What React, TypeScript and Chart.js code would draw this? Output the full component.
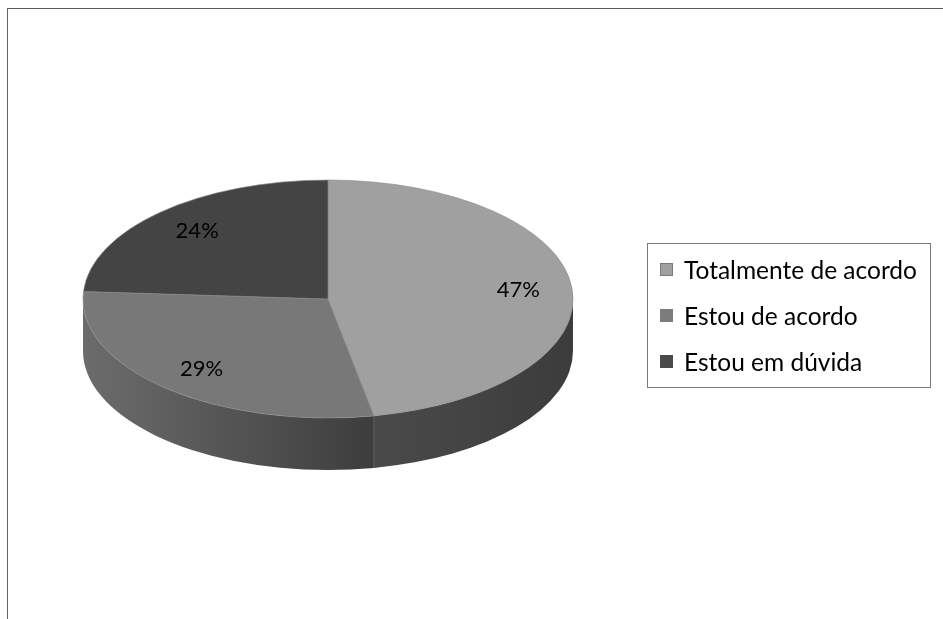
import React, { useEffect, useRef } from 'react';
import { Chart, registerables } from 'chart.js';

Chart.register(...registerables);

const categories = ['Totalmente de acordo', 'Estou de acordo', 'Estou em dúvida'];
const values = [47, 29, 24];
const percentLabels = ['47%', '29%', '24%'];
const topColors = ['#a0a0a0', '#787878', '#444444'];
const sideLight = ['#4a4a4a', '#6c6c6c', '#3a3a3a'];
const sideDark = ['#3c3c3c', '#3d3d3d', '#2e2e2e'];
const legendColors = ['#a0a0a0', '#7c7c7c', '#4a4a4a'];
const legendBorders = ['#7a7a7a', '#7c7c7c', '#4a4a4a'];

// 3D pie geometry (page pixels)
const CX = 328;
const CY = 299;
const RX = 245;
const RY = 119;
const DEPTH = 52;
const LABEL_F = 0.78;
const FONT = 'Lato, "Open Sans", sans-serif';

const pie3d = {
  id: 'pie3d',
  beforeDatasetsDraw(chart: any) {
    const ctx: CanvasRenderingContext2D = chart.ctx;
    const meta = chart.getDatasetMeta(0);
    // side walls (front half only)
    meta.data.forEach((arc: any, i: number) => {
      const { startAngle, endAngle } = arc.getProps(['startAngle', 'endAngle'], true);
      const s = Math.max(startAngle, 0);
      const e = Math.min(endAngle, Math.PI);
      if (e <= s) return;
      ctx.save();
      ctx.beginPath();
      ctx.ellipse(CX, CY, RX, RY, 0, s, e, false);
      ctx.ellipse(CX, CY + DEPTH, RX, RY, 0, e, s, true);
      ctx.closePath();
      const x0 = CX + RX * Math.cos(e);
      const x1 = CX + RX * Math.cos(s);
      const g = ctx.createLinearGradient(Math.min(x0, x1), 0, Math.max(x0, x1), 0);
      g.addColorStop(0, sideLight[i]);
      g.addColorStop(1, sideDark[i]);
      ctx.fillStyle = g;
      ctx.fill();
      ctx.restore();
    });
    // boundary lines on the side wall
    meta.data.forEach((arc: any) => {
      const { startAngle } = arc.getProps(['startAngle'], true);
      const a = startAngle;
      if (a > 0 && a < Math.PI) {
        const px = CX + RX * Math.cos(a);
        const py = CY + RY * Math.sin(a);
        ctx.save();
        ctx.strokeStyle = '#5c5c5c';
        ctx.lineWidth = 1;
        ctx.beginPath();
        ctx.moveTo(px, py);
        ctx.lineTo(px, py + DEPTH);
        ctx.stroke();
        ctx.restore();
      }
    });
    // map the circular pie to the top ellipse
    const a0 = meta.data[0];
    const { x, y, outerRadius } = a0.getProps(['x', 'y', 'outerRadius'], true);
    ctx.save();
    ctx.translate(CX, CY);
    ctx.scale(RX / outerRadius, RY / outerRadius);
    ctx.translate(-x, -y);
  },
  afterDatasetsDraw(chart: any) {
    const ctx: CanvasRenderingContext2D = chart.ctx;
    ctx.restore();
    const meta = chart.getDatasetMeta(0);
    ctx.save();
    ctx.font = `22px ${FONT}`;
    ctx.fillStyle = '#000000';
    ctx.textAlign = 'center';
    ctx.textBaseline = 'middle';
    meta.data.forEach((arc: any, i: number) => {
      const { startAngle, endAngle } = arc.getProps(['startAngle', 'endAngle'], true);
      const mid = (startAngle + endAngle) / 2;
      const lx = CX + RX * LABEL_F * Math.cos(mid);
      const ly = CY + RY * LABEL_F * Math.sin(mid);
      ctx.fillText(percentLabels[i], lx, ly);
    });
    ctx.restore();
  },
};

export default function App() {
  const canvasRef = useRef<HTMLCanvasElement | null>(null);

  useEffect(() => {
    if (!canvasRef.current) return;
    const chart = new Chart(canvasRef.current, {
      type: 'pie',
      data: {
        labels: categories,
        datasets: [
          {
            data: values,
            backgroundColor: topColors,
            borderColor: '#8c8c8c',
            borderWidth: 1,
            clip: false,
          } as any,
        ],
      },
      options: {
        responsive: false,
        animation: false,
        events: [],
        layout: { padding: 20 },
        plugins: {
          legend: { display: false },
          tooltip: { enabled: false },
        },
      },
      plugins: [pie3d],
    });
    return () => chart.destroy();
  }, []);

  return (
    <div style={{ position: 'fixed', left: 0, top: 0, width: 943, height: 619, background: '#ffffff', overflow: 'hidden' }}>
      <canvas ref={canvasRef} width={943} height={619} style={{ position: 'absolute', left: 0, top: 0, width: 943, height: 619 }} />
      <div
        style={{
          position: 'absolute',
          left: 7,
          top: 8,
          width: 1000,
          height: 1000,
          borderLeft: '1px solid #666666',
          borderTop: '1px solid #5c5c5c',
          pointerEvents: 'none',
        }}
      />
      <div
        style={{
          position: 'absolute',
          left: 647,
          top: 243,
          width: 284,
          height: 145,
          border: '1px solid #7a7a7a',
          boxSizing: 'border-box',
          fontFamily: FONT,
          fontSize: 24.5,
          color: '#000000',
        }}
      >
        {categories.map((c, i) => (
          <div
            key={c}
            style={{
              position: 'absolute',
              left: 12,
              top: 25 + i * 46 - 16,
              height: 32,
              display: 'flex',
              alignItems: 'center',
              whiteSpace: 'nowrap',
            }}
          >
            <span
              style={{
                display: 'inline-block',
                width: 13,
                height: 13,
                boxSizing: 'border-box',
                background: legendColors[i],
                border: `1px solid ${legendBorders[i]}`,
                marginRight: 11,
              }}
            />
            <span>{c}</span>
          </div>
        ))}
      </div>
    </div>
  );
}
